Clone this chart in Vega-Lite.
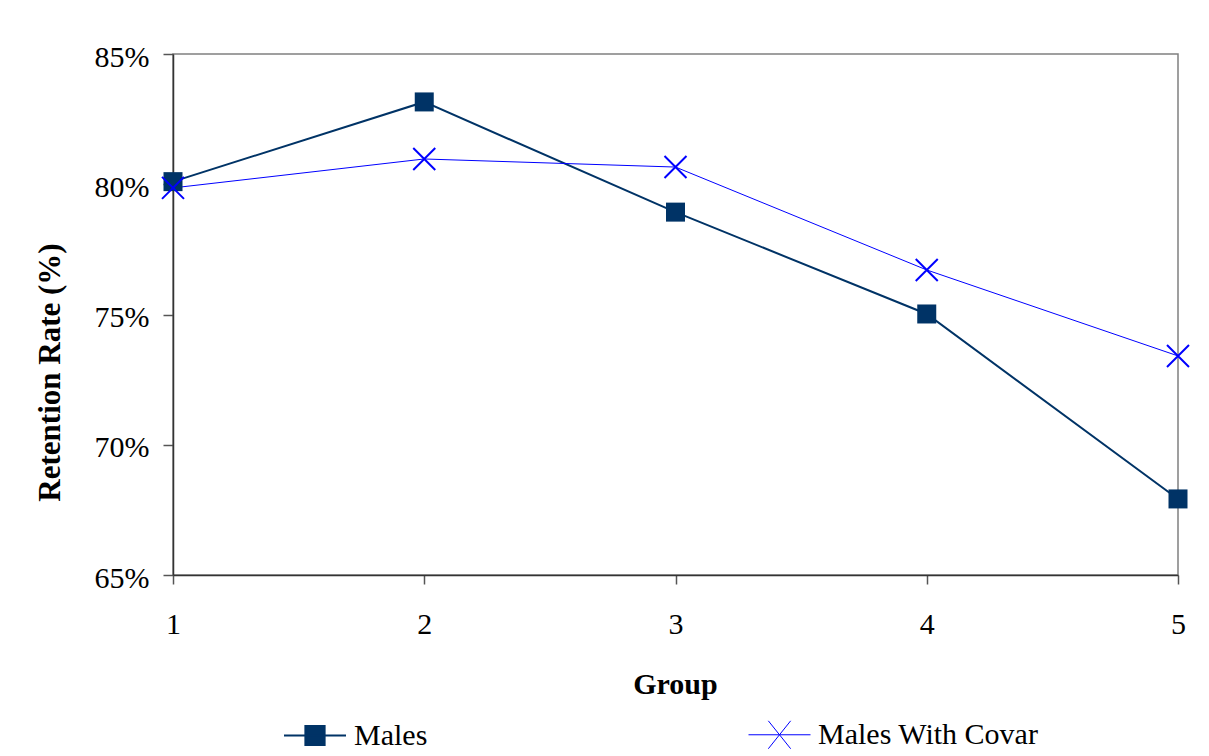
{
  "$schema": "https://vega.github.io/schema/vega-lite/v6.json",
  "autosize": "none",
  "width": 1005,
  "height": 521,
  "padding": {"left": 173, "top": 54, "right": 31, "bottom": 181},
  "background": "white",
  "config": {
    "font": "Liberation Serif",
    "view": {"stroke": "#808080", "strokeWidth": 1.5}
  },
  "data": {
    "values": [
      {"group": 1, "series": "Males", "value": 0.801},
      {"group": 2, "series": "Males", "value": 0.8316},
      {"group": 3, "series": "Males", "value": 0.7893},
      {"group": 4, "series": "Males", "value": 0.7502},
      {"group": 5, "series": "Males", "value": 0.6792},
      {"group": 1, "series": "Males With Covar", "value": 0.7986},
      {"group": 2, "series": "Males With Covar", "value": 0.8097},
      {"group": 3, "series": "Males With Covar", "value": 0.8066},
      {"group": 4, "series": "Males With Covar", "value": 0.7671},
      {"group": 5, "series": "Males With Covar", "value": 0.7341}
    ]
  },
  "encoding": {
    "x": {
      "field": "group", "type": "quantitative",
      "scale": {"domain": [1, 5], "nice": false, "zero": false},
      "axis": {
        "values": [1, 2, 3, 4, 5], "format": "d", "grid": false, "labelFlush": false,
        "title": "Group", "titleFont": "Liberation Serif", "titleFontSize": 30, "titleFontWeight": "bold",
        "titleColor": "black", "titleX": 502, "titleY": 118, "titleBaseline": "alphabetic", "titleAlign": "center",
        "labelFont": "Liberation Serif", "labelFontSize": 30, "labelColor": "black",
        "labelBaseline": "alphabetic", "labelPadding": 49, "tickSize": 9,
        "tickColor": "#555555", "domainColor": "#333333", "domainWidth": 1.5, "tickWidth": 1.5
      }
    },
    "y": {
      "field": "value", "type": "quantitative",
      "scale": {"domain": [0.65, 0.85], "nice": false, "zero": false},
      "axis": {
        "values": [0.65, 0.7, 0.75, 0.8, 0.85], "format": ".0%", "grid": false, "labelFlush": false,
        "title": "Retention Rate (%)", "titleFont": "Liberation Serif", "titleFontSize": 31, "titleFontWeight": "bold",
        "titleColor": "black", "titleX": -123, "titleY": 318, "titleAngle": -90, "titleAlign": "center", "titleBaseline": "middle",
        "labelFont": "Liberation Serif", "labelFontSize": 30, "labelColor": "black",
        "labelBaseline": "alphabetic", "labelOffset": 12, "labelPadding": 14, "tickSize": 10,
        "tickColor": "#555555", "domainColor": "#333333", "domainWidth": 1.5, "tickWidth": 1.5
      }
    }
  },
  "layer": [
    {
      "mark": {"type": "line"},
      "encoding": {
        "color": {
          "field": "series", "type": "nominal",
          "scale": {"domain": ["Males", "Males With Covar"], "range": ["#003366", "#0000ff"]},
          "legend": {
            "orient": "none", "legendX": 110, "legendY": 649, "direction": "horizontal",
            "title": null, "padding": 0, "offset": 0,
            "labelFont": "Liberation Serif", "labelFontSize": 30, "labelColor": "black",
            "labelOffset": 7, "labelLimit": 500, "columnPadding": 318,
            "symbolSize": 3844, "symbolStrokeWidth": 1.5,
            "encode": {
              "symbols": {
                "update": {
                  "shape": {"signal": "datum.value === 'Males' ? 'M-1,0H1M-0.31,-0.31H0.31V0.31H-0.31Z' : 'M-1,0H1M-0.36,-0.45L0.36,0.45M-0.36,0.45L0.36,-0.45'"},
                  "fill": {"signal": "datum.value === 'Males' ? '#003366' : 'transparent'"},
                  "strokeWidth": {"signal": "datum.value === 'Males' ? 2 : 1.5"},
                  "opacity": {"value": 1}
                }
              }
            }
          }
        },
        "strokeWidth": {
          "field": "series", "type": "nominal",
          "scale": {"domain": ["Males", "Males With Covar"], "range": [2, 1]},
          "legend": null
        }
      }
    },
    {
      "transform": [{"filter": "datum.series === 'Males'"}],
      "mark": {"type": "point", "shape": "square", "filled": true, "size": 361, "color": "#003366", "opacity": 1}
    },
    {
      "transform": [{"filter": "datum.series === 'Males With Covar'"}],
      "mark": {"type": "point", "shape": "M-1,-1L1,1M-1,1L1,-1", "filled": false, "size": 484, "strokeWidth": 2, "color": "#0000ff", "opacity": 1}
    }
  ]
}
